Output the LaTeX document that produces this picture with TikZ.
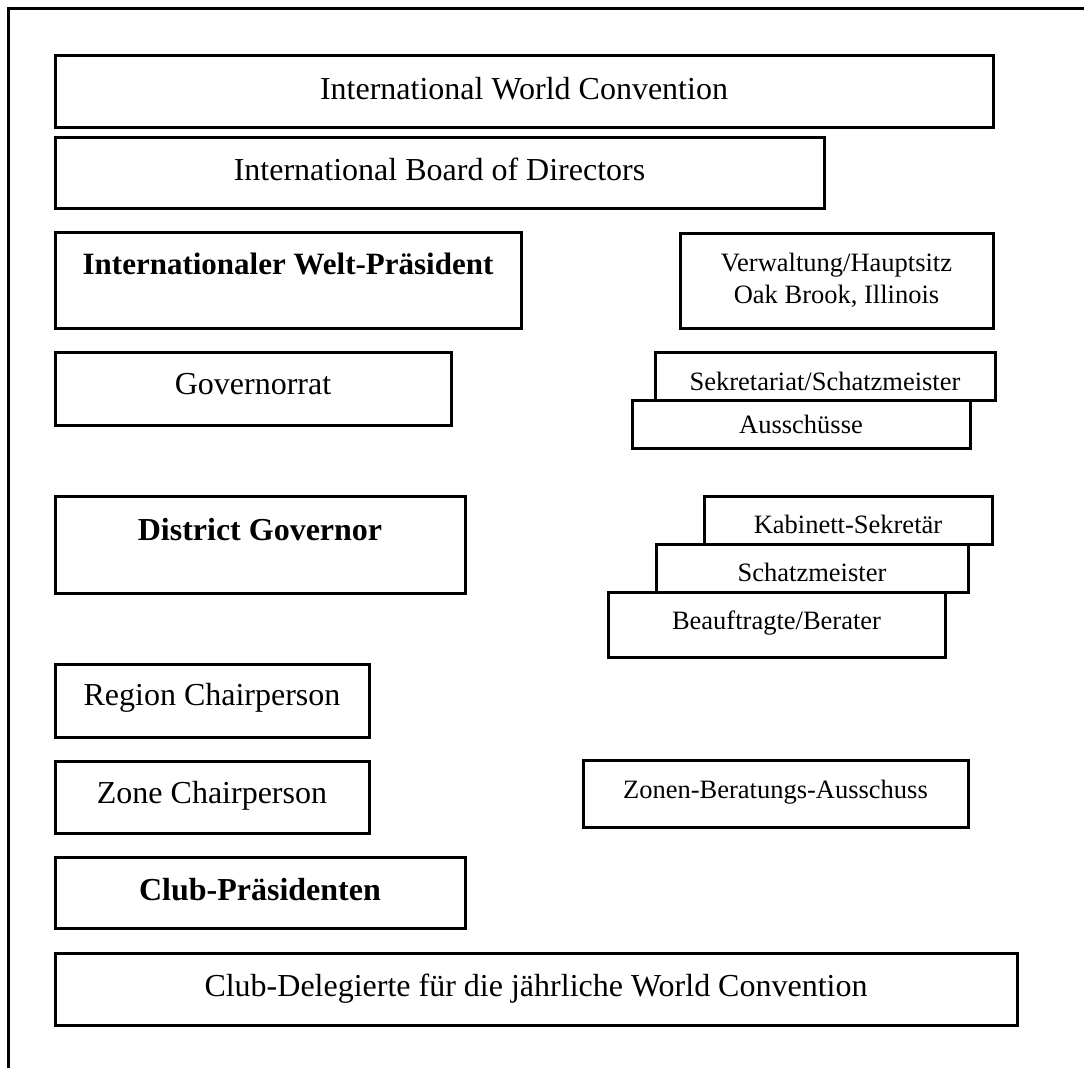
\documentclass[tikz,border=0pt]{standalone}
\usepackage{fontspec}
\setmainfont{Liberation Serif}
\newcommand\bigfnt{\fontsize{32}{38}\selectfont}
\newcommand\presfnt{\fontsize{31}{37}\selectfont}
\newcommand\smallfnt{\fontsize{26.5}{31.8}\selectfont}
\tikzset{
  bx/.style={draw, line width=3pt, fill=white, inner sep=0pt, outer sep=0pt, anchor=north},
  bigbox/.style={bx, font=\bigfnt},
  boldbox/.style={bx, font=\bigfnt\bfseries},
  smallbox/.style={bx, font=\smallfnt, align=center},
}
\begin{document}
\begin{tikzpicture}[x=1pt,y=-1pt]
\useasboundingbox (0,0) rectangle (1084,1068);
\fill[white] (0,0) rectangle (1084,1068);
% outer frame (top and left edges)
\coordinate (frTR) at (1084,8);
\coordinate (frTL) at (8,8);
\coordinate (frBL) at (8,1068);
\draw[line width=3pt] (frTR) -- (frTL) -- (frBL);

\node[bigbox, minimum width=938pt, text height=44pt, text depth=28pt] (iwc) at (524,55) {International World Convention};
\node[bigbox, minimum width=769pt, text height=43pt, text depth=28pt] (ibd) at (439.5,137) {International Board of Directors};
\node[boldbox, font=\presfnt\bfseries, minimum width=466pt, text height=42pt, text depth=54pt] (pres) at (288,232) {Internationaler Welt-Präsident};
\node[smallbox, minimum width=313pt, minimum height=95pt] (hq) at (836.5,233) {Verwaltung/Hauptsitz\\Oak Brook, Illinois};
\node[bigbox, minimum width=396pt, text height=42pt, text depth=31pt] (gov) at (253,352) {Governorrat};
\node[smallbox, minimum width=340pt, text height=38pt, text depth=10pt] (sek) at (825,352) {Sekretariat/Schatzmeister};
\node[smallbox, minimum width=338pt, text height=33pt, text depth=15pt] (aus) at (801,400) {Ausschüsse};
\node[boldbox, minimum width=410pt, text height=44pt, text depth=53pt] (dg) at (260,496) {District Governor};
\node[smallbox, minimum width=288pt, text height=37pt, text depth=11pt] (kab) at (848,496) {Kabinett-Sekretär};
\node[smallbox, minimum width=312pt, text height=37pt, text depth=11pt] (sch) at (812,544) {Schatzmeister};
\node[smallbox, minimum width=337pt, text height=37pt, text depth=28pt] (bea) at (776.5,592) {Beauftragte/Berater};
\node[bigbox, minimum width=314pt, text height=41pt, text depth=32pt] (reg) at (212,664) {Region Chairperson};
\node[bigbox, minimum width=314pt, text height=42pt, text depth=30pt] (zone) at (212,761) {Zone Chairperson};
\node[smallbox, minimum width=385pt, text height=38pt, text depth=29pt] (zba) at (775.5,760) {Zonen-Beratungs-Ausschuss};
\node[boldbox, minimum width=410pt, text height=43pt, text depth=28pt] (cp) at (260,857) {Club-Präsidenten};
\node[bigbox, minimum width=962pt, text height=43pt, text depth=29pt] (cd) at (536,953) {Club-Delegierte für die jährliche World Convention};
\end{tikzpicture}
\end{document}
